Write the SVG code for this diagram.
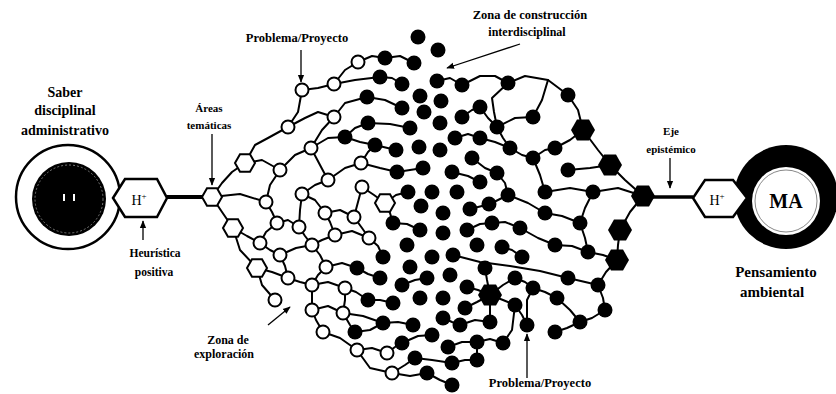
<svg xmlns="http://www.w3.org/2000/svg" xmlns:xlink="http://www.w3.org/1999/xlink" width="836" height="394" viewBox="0 0 836 394">
<style>
.ln{fill:none;stroke:#000;stroke-width:2;stroke-linejoin:round;stroke-linecap:round}
.o{fill:#fff;stroke:#000;stroke-width:2}
.f{fill:#000}
.ar{fill:none;stroke:#000;stroke-width:1.3}
.t{font-family:"Liberation Serif","Times New Roman",serif;font-weight:bold;fill:#000;text-anchor:middle}
.h{font-family:"Liberation Serif","Times New Roman",serif;fill:#000;text-anchor:middle;font-size:14px}
circle.o{r:6.5px}
circle.f{r:7.5px}
</style>
<defs>
<marker id="ah" viewBox="0 0 10 10" refX="9" refY="5" markerWidth="6" markerHeight="6" orient="auto"><path d="M0,1 L10,5 L0,9 z" fill="#000"/></marker>
<polygon id="hx" points="10,0 5,8.7 -5,8.7 -10,0 -5,-8.7 5,-8.7"/>
<polygon id="bh" points="12,0 6,10.4 -6,10.4 -12,0 -6,-10.4 6,-10.4"/>
</defs>
<rect width="836" height="394" fill="#fff"/>

<g id="saber">
<circle cx="68" cy="197" r="52" fill="#fff" stroke="#000" stroke-width="2.5"/>
<circle cx="69" cy="199" r="37" fill="#000"/>
<circle cx="69" cy="199" r="34" fill="none" stroke="#777" stroke-width="1" stroke-dasharray="2 2"/>
<rect x="63" y="194" width="2" height="7" fill="#fff"/>
<rect x="73" y="194" width="2" height="7" fill="#fff"/>
<polygon points="113,198 125,179 157,179 167,198 157,217 125,217" fill="#fff" stroke="#000" stroke-width="2.5"/>
<text class="h" x="139" y="205">H<tspan dy="-6" font-size="9">+</tspan></text>
</g>

<g id="ma">
<circle cx="786" cy="197" r="52" fill="#000"/>
<circle cx="786" cy="201" r="34" fill="#fff"/>
<circle cx="786" cy="201" r="31" fill="none" stroke="#888" stroke-width="1"/>
<polygon points="693,198 705,180 733,180 747,198 733,217 705,217" fill="#fff" stroke="#000" stroke-width="2.5"/>
<text class="h" x="717" y="205">H<tspan dy="-6" font-size="9">+</tspan></text>
<text class="t" x="786" y="208" font-size="20">MA</text>
</g>

<g id="connectors">
<line x1="167" y1="197" x2="203" y2="197" stroke="#000" stroke-width="4"/>
<line x1="650" y1="197" x2="693" y2="197" stroke="#000" stroke-width="3.5"/>
<path class="ln" d="M212,197 L222,183 L232,172 L245,163"/>
<path class="ln" d="M212,197 L222,212 L233,228"/>
<path class="ln" d="M212,197 L240,194 L266,202"/>
<path class="ln" d="M245,163 L262,160 L280,170"/>
<path class="ln" d="M245,163 L255,145 L268,138 L288,127"/>
<path class="ln" d="M288,127 L298,112 L302,90"/>
<path class="ln" d="M302,90 L318,88 L334,84"/>
<path class="ln" d="M334,84 L345,70 L358,62"/>
<path class="ln" d="M358,62 L372,56 L385,58"/>
<path class="ln" d="M385,58 L400,56 L414,63"/>
<path class="ln" d="M334,84 L355,80 L380,77"/>
<path class="ln" d="M380,77 L392,78 L402,84"/>
<path class="ln" d="M288,127 L305,118 L318,112 L334,117"/>
<path class="ln" d="M334,117 L345,103 L367,97"/>
<path class="ln" d="M367,97 L385,100 L402,108"/>
<path class="ln" d="M334,117 L322,130 L311,148"/>
<path class="ln" d="M311,148 L295,155 L280,170"/>
<path class="ln" d="M311,148 L328,138 L345,137"/>
<path class="ln" d="M345,137 L355,128 L368,123"/>
<path class="ln" d="M368,123 L390,124 L410,128"/>
<path class="ln" d="M345,137 L360,142 L375,145 L396,150"/>
<path class="ln" d="M311,148 L320,165 L328,180"/>
<path class="ln" d="M328,180 L345,168 L361,163"/>
<path class="ln" d="M361,163 L368,152 L375,145"/>
<path class="ln" d="M361,163 L380,168 L397,172 L423,168"/>
<path class="ln" d="M280,170 L270,185 L266,202"/>
<path class="ln" d="M266,202 L272,212 L277,223"/>
<path class="ln" d="M328,180 L315,185 L302,194"/>
<path class="ln" d="M302,194 L300,210 L299,227"/>
<path class="ln" d="M302,194 L315,200 L325,213"/>
<path class="ln" d="M325,213 L340,210 L354,217"/>
<path class="ln" d="M354,217 L358,202 L362,187"/>
<path class="ln" d="M362,187 L374,195 L385,203"/>
<path class="ln" d="M385,203 L390,213 L393,223"/>
<path class="ln" d="M385,203 L396,195 L408,192"/>
<path class="ln" d="M277,223 L288,220 L299,227"/>
<path class="ln" d="M233,228 L247,236 L260,243"/>
<path class="ln" d="M277,223 L266,232 L260,243"/>
<path class="ln" d="M299,227 L305,236 L312,245"/>
<path class="ln" d="M325,213 L330,222 L335,235"/>
<path class="ln" d="M335,235 L352,231 L369,238"/>
<path class="ln" d="M369,238 L378,246 L383,257"/>
<path class="ln" d="M335,235 L322,240 L312,245"/>
<path class="ln" d="M260,243 L270,250 L280,255"/>
<path class="ln" d="M280,255 L296,248 L312,245"/>
<path class="ln" d="M233,228 L240,250 L257,268"/>
<path class="ln" d="M257,268 L272,272 L288,278"/>
<path class="ln" d="M280,255 L285,266 L288,278"/>
<path class="ln" d="M312,245 L320,255 L326,267"/>
<path class="ln" d="M326,267 L342,263 L357,268"/>
<path class="ln" d="M357,268 L368,274 L380,278"/>
<path class="ln" d="M326,267 L318,275 L312,285"/>
<path class="ln" d="M288,278 L300,282 L312,285"/>
<path class="ln" d="M312,285 L328,282 L345,288"/>
<path class="ln" d="M345,288 L356,292 L368,300"/>
<path class="ln" d="M368,300 L380,300 L393,303"/>
<path class="ln" d="M257,268 L262,285 L275,300"/>
<path class="ln" d="M312,285 L312,297 L312,310"/>
<path class="ln" d="M312,310 L328,306 L343,313"/>
<path class="ln" d="M343,313 L363,316 L383,323"/>
<path class="ln" d="M383,323 L398,322 L413,325"/>
<path class="ln" d="M312,310 L316,320 L323,332"/>
<path class="ln" d="M323,332 L340,338 L357,350"/>
<path class="ln" d="M357,350 L372,348 L387,353"/>
<path class="ln" d="M387,353 L395,347 L402,343"/>
<path class="ln" d="M357,350 L370,368 L392,373"/>
<path class="ln" d="M392,373 L405,365 L415,358"/>
<path class="ln" d="M415,358 L432,360 L452,363"/>
<path class="ln" d="M392,373 L410,376 L427,373"/>
<path class="ln" d="M345,288 L345,300 L343,313"/>
<path class="ln" d="M354,217 L362,228 L369,238"/>
<path class="ln" d="M343,313 L350,325 L355,332"/>
<path class="ln" d="M355,332 L370,330 L383,323"/>
<path class="ln" d="M402,343 L418,336 L432,335"/>
<path class="ln" d="M393,223 L407,224 L420,230"/>
<path class="ln" d="M402,285 L415,280 L427,278"/>
<path class="ln" d="M437,81 L450,78 L462,85"/>
<path class="ln" d="M462,85 L480,76 L495,76 L508,83"/>
<path class="ln" d="M508,83 L525,76 L548,80 L568,95"/>
<path class="ln" d="M568,95 L578,110 L583,130"/>
<path class="ln" d="M583,130 L598,150 L610,165"/>
<path class="ln" d="M610,165 L625,180 L643,196"/>
<path class="ln" d="M508,83 L492,98 L494,112 L497,127"/>
<path class="ln" d="M480,107 L488,118 L497,127"/>
<path class="ln" d="M462,117 L472,110 L480,107"/>
<path class="ln" d="M497,127 L515,118 L533,117"/>
<path class="ln" d="M533,117 L542,100 L548,80"/>
<path class="ln" d="M497,127 L503,138 L510,148"/>
<path class="ln" d="M510,148 L522,155 L533,158"/>
<path class="ln" d="M533,158 L545,150 L555,148"/>
<path class="ln" d="M555,148 L570,140 L583,130"/>
<path class="ln" d="M455,138 L468,134 L480,138"/>
<path class="ln" d="M480,138 L495,142 L510,148"/>
<path class="ln" d="M472,158 L485,168 L497,173"/>
<path class="ln" d="M497,173 L505,183 L508,195"/>
<path class="ln" d="M533,158 L540,175 L545,192"/>
<path class="ln" d="M545,192 L570,188 L593,192"/>
<path class="ln" d="M593,192 L618,188 L643,196"/>
<path class="ln" d="M568,170 L590,168 L610,165"/>
<path class="ln" d="M452,172 L468,176 L480,182"/>
<path class="ln" d="M470,209 L490,204 L508,195"/>
<path class="ln" d="M508,195 L528,203 L545,213"/>
<path class="ln" d="M545,213 L562,216 L580,223"/>
<path class="ln" d="M593,192 L585,208 L580,223"/>
<path class="ln" d="M580,223 L585,238 L588,252"/>
<path class="ln" d="M643,196 L630,212 L620,230"/>
<path class="ln" d="M620,230 L618,245 L617,260"/>
<path class="ln" d="M617,260 L606,272 L598,285"/>
<path class="ln" d="M598,285 L603,298 L605,310"/>
<path class="ln" d="M605,310 L592,318 L580,322"/>
<path class="ln" d="M580,322 L567,328 L555,332"/>
<path class="ln" d="M588,252 L603,255 L617,260"/>
<path class="ln" d="M467,230 L480,224 L492,223"/>
<path class="ln" d="M492,223 L505,222 L520,228"/>
<path class="ln" d="M520,228 L538,238 L555,245"/>
<path class="ln" d="M555,245 L572,246 L588,252"/>
<path class="ln" d="M453,255 L480,262 L510,266 L540,271 L568,278 L598,285"/>
<path class="ln" d="M490,295 L487,280 L485,268"/>
<path class="ln" d="M490,295 L503,285 L515,278"/>
<path class="ln" d="M490,295 L503,300 L515,305"/>
<path class="ln" d="M490,295 L490,308 L490,322"/>
<path class="ln" d="M490,295 L477,302 L465,308"/>
<path class="ln" d="M467,287 L478,290 L490,295"/>
<path class="ln" d="M515,305 L522,315 L527,325"/>
<path class="ln" d="M515,278 L525,282 L533,288"/>
<path class="ln" d="M533,288 L545,292 L557,298"/>
<path class="ln" d="M557,298 L570,310 L580,322"/>
<path class="ln" d="M502,247 L512,250 L522,257"/>
<path class="ln" d="M477,342 L490,339 L503,343"/>
<path class="ln" d="M477,342 L477,351 L477,360"/>
<path class="ln" d="M452,363 L465,360 L477,360"/>
<path class="ln" d="M448,347 L462,342 L477,342"/>
<path class="ln" d="M460,325 L475,320 L490,322"/>
<path class="ln" d="M443,318 L452,322 L460,325"/>
<path class="ln" d="M503,343 L512,330 L515,305"/>
<path class="ln" d="M452,385 L440,380 L427,373"/>
<path class="ln" d="M527,325 L527,300 L533,288"/>
</g>

<g id="exploracion">
<use href="#hx" x="212" y="197" class="o"/>
<use href="#hx" x="245" y="163" class="o"/>
<use href="#hx" x="233" y="228" class="o"/>
<use href="#hx" x="257" y="268" class="o"/>
<use href="#hx" x="385" y="203" class="o"/>
<circle class="o" cx="302" cy="90" r="6"/>
<circle class="o" cx="334" cy="84" r="6"/>
<circle class="o" cx="358" cy="62" r="6"/>
<circle class="o" cx="334" cy="117" r="6"/>
<circle class="o" cx="288" cy="127" r="6"/>
<circle class="o" cx="311" cy="148" r="6"/>
<circle class="o" cx="280" cy="170" r="6"/>
<circle class="o" cx="302" cy="194" r="6"/>
<circle class="o" cx="328" cy="180" r="6"/>
<circle class="o" cx="361" cy="163" r="6"/>
<circle class="o" cx="266" cy="202" r="6"/>
<circle class="o" cx="277" cy="223" r="6"/>
<circle class="o" cx="260" cy="243" r="6"/>
<circle class="o" cx="299" cy="227" r="6"/>
<circle class="o" cx="325" cy="213" r="6"/>
<circle class="o" cx="354" cy="217" r="6"/>
<circle class="o" cx="335" cy="235" r="6"/>
<circle class="o" cx="312" cy="245" r="6"/>
<circle class="o" cx="369" cy="238" r="6"/>
<circle class="o" cx="280" cy="255" r="6"/>
<circle class="o" cx="288" cy="278" r="6"/>
<circle class="o" cx="326" cy="267" r="6"/>
<circle class="o" cx="312" cy="285" r="6"/>
<circle class="o" cx="345" cy="288" r="6"/>
<circle class="o" cx="275" cy="300" r="6"/>
<circle class="o" cx="312" cy="310" r="6"/>
<circle class="o" cx="343" cy="313" r="6"/>
<circle class="o" cx="323" cy="332" r="6"/>
<circle class="o" cx="357" cy="350" r="6"/>
<circle class="o" cx="387" cy="353" r="6"/>
<circle class="o" cx="392" cy="373" r="6"/>
<circle class="o" cx="362" cy="187" r="6"/>
</g>

<g id="construccion">
<circle class="f" cx="418" cy="37" r="7"/><circle class="f" cx="438" cy="50" r="7"/><circle class="f" cx="385" cy="58" r="7"/><circle class="f" cx="414" cy="63" r="7"/><circle class="f" cx="380" cy="77" r="7"/><circle class="f" cx="402" cy="84" r="7"/><circle class="f" cx="437" cy="81" r="7"/><circle class="f" cx="462" cy="85" r="7"/><circle class="f" cx="508" cy="83" r="7"/><circle class="f" cx="568" cy="95" r="7"/>
<circle class="f" cx="367" cy="97" r="7"/><circle class="f" cx="420" cy="96" r="7"/><circle class="f" cx="441" cy="101" r="7"/><circle class="f" cx="402" cy="108" r="7"/><circle class="f" cx="424" cy="112" r="7"/><circle class="f" cx="480" cy="107" r="7"/><circle class="f" cx="462" cy="117" r="7"/><circle class="f" cx="533" cy="117" r="7"/>
<circle class="f" cx="368" cy="123" r="7"/><circle class="f" cx="440" cy="123" r="7"/><circle class="f" cx="410" cy="128" r="7"/><circle class="f" cx="497" cy="127" r="7"/>
<circle class="f" cx="345" cy="137" r="7"/><circle class="f" cx="375" cy="145" r="7"/><circle class="f" cx="396" cy="150" r="7"/><circle class="f" cx="419" cy="147" r="7"/><circle class="f" cx="440" cy="150" r="7"/><circle class="f" cx="455" cy="138" r="7"/><circle class="f" cx="480" cy="138" r="7"/><circle class="f" cx="510" cy="148" r="7"/><circle class="f" cx="555" cy="148" r="7"/>
<circle class="f" cx="472" cy="158" r="7"/><circle class="f" cx="533" cy="158" r="7"/>
<circle class="f" cx="397" cy="172" r="7"/><circle class="f" cx="423" cy="168" r="7"/><circle class="f" cx="452" cy="172" r="7"/><circle class="f" cx="497" cy="173" r="7"/><circle class="f" cx="480" cy="182" r="7"/><circle class="f" cx="568" cy="170" r="7"/>
<circle class="f" cx="408" cy="192" r="7"/><circle class="f" cx="432" cy="192" r="7"/><circle class="f" cx="457" cy="192" r="7"/><circle class="f" cx="508" cy="195" r="7"/><circle class="f" cx="545" cy="192" r="7"/><circle class="f" cx="593" cy="192" r="7"/>
<circle class="f" cx="421" cy="206" r="7"/><circle class="f" cx="443" cy="213" r="7"/><circle class="f" cx="470" cy="209" r="7"/><circle class="f" cx="489" cy="204" r="7"/><circle class="f" cx="545" cy="213" r="7"/>
<circle class="f" cx="393" cy="223" r="7"/><circle class="f" cx="420" cy="230" r="7"/><circle class="f" cx="443" cy="233" r="7"/><circle class="f" cx="467" cy="230" r="7"/><circle class="f" cx="492" cy="223" r="7"/><circle class="f" cx="520" cy="228" r="7"/><circle class="f" cx="580" cy="223" r="7"/>
<circle class="f" cx="383" cy="257" r="7"/><circle class="f" cx="407" cy="245" r="7"/><circle class="f" cx="432" cy="257" r="7"/><circle class="f" cx="453" cy="255" r="7"/><circle class="f" cx="477" cy="245" r="7"/><circle class="f" cx="502" cy="247" r="7"/><circle class="f" cx="522" cy="257" r="7"/><circle class="f" cx="555" cy="245" r="7"/><circle class="f" cx="588" cy="252" r="7"/>
<circle class="f" cx="357" cy="268" r="7"/><circle class="f" cx="380" cy="278" r="7"/><circle class="f" cx="410" cy="267" r="7"/><circle class="f" cx="427" cy="278" r="7"/><circle class="f" cx="450" cy="275" r="7"/><circle class="f" cx="485" cy="268" r="7"/><circle class="f" cx="515" cy="278" r="7"/><circle class="f" cx="533" cy="288" r="7"/><circle class="f" cx="568" cy="278" r="7"/><circle class="f" cx="598" cy="285" r="7"/>
<circle class="f" cx="402" cy="285" r="7"/><circle class="f" cx="467" cy="287" r="7"/>
<circle class="f" cx="368" cy="300" r="7"/><circle class="f" cx="393" cy="303" r="7"/><circle class="f" cx="420" cy="298" r="7"/><circle class="f" cx="443" cy="298" r="7"/><circle class="f" cx="465" cy="308" r="7"/><circle class="f" cx="515" cy="305" r="7"/><circle class="f" cx="557" cy="298" r="7"/><circle class="f" cx="605" cy="310" r="7"/>
<circle class="f" cx="383" cy="323" r="7"/><circle class="f" cx="413" cy="325" r="7"/><circle class="f" cx="443" cy="318" r="7"/><circle class="f" cx="460" cy="325" r="7"/><circle class="f" cx="490" cy="322" r="7"/><circle class="f" cx="527" cy="325" r="7"/><circle class="f" cx="555" cy="332" r="7"/><circle class="f" cx="580" cy="322" r="7"/>
<circle class="f" cx="355" cy="332" r="7"/><circle class="f" cx="432" cy="335" r="7"/><circle class="f" cx="402" cy="343" r="7"/><circle class="f" cx="448" cy="347" r="7"/><circle class="f" cx="477" cy="342" r="7"/><circle class="f" cx="503" cy="343" r="7"/>
<circle class="f" cx="415" cy="358" r="7"/><circle class="f" cx="452" cy="363" r="7"/><circle class="f" cx="477" cy="360" r="7"/>
<circle class="f" cx="427" cy="373" r="7"/><circle class="f" cx="452" cy="385" r="7"/>
<use href="#bh" x="583" y="130" class="f"/>
<use href="#bh" x="610" y="165" class="f"/>
<use href="#bh" x="643" y="196" class="f"/>
<use href="#bh" x="620" y="230" class="f"/>
<use href="#bh" x="617" y="260" class="f"/>
<use href="#bh" x="490" y="295" class="f"/>
</g>

<g id="arrows">
<line class="ar" x1="301" y1="50" x2="301" y2="82" marker-end="url(#ah)"/>
<line class="ar" x1="212" y1="134" x2="212" y2="185" marker-end="url(#ah)"/>
<line class="ar" x1="143" y1="240" x2="143" y2="221" marker-end="url(#ah)"/>
<line class="ar" x1="520" y1="44" x2="447" y2="68" marker-end="url(#ah)"/>
<line class="ar" x1="670" y1="158" x2="670" y2="188" marker-end="url(#ah)"/>
<line class="ar" x1="268" y1="325" x2="290" y2="307" marker-end="url(#ah)"/>
<line class="ar" x1="527" y1="378" x2="527" y2="334" marker-end="url(#ah)"/>
</g>

<g id="labels">
<text class="t" x="65" y="97" font-size="14">Saber</text>
<text class="t" x="65" y="115" font-size="14">disciplinal</text>
<text class="t" x="65" y="135" font-size="14">administrativo</text>
<text class="t" x="209" y="112" font-size="11">Áreas</text>
<text class="t" x="209" y="129" font-size="11">temáticas</text>
<text class="t" x="155" y="257" font-size="11.5">Heurística</text>
<text class="t" x="154" y="276" font-size="11.5">positiva</text>
<text class="t" x="297" y="42" font-size="12.5">Problema/Proyecto</text>
<text class="t" x="530" y="19" font-size="12.5">Zona de construcción</text>
<text class="t" x="527" y="36" font-size="12">interdisciplinal</text>
<text class="t" x="671" y="135" font-size="11">Eje</text>
<text class="t" x="671" y="153" font-size="11">epistémico</text>
<text class="t" x="776" y="277" font-size="15">Pensamiento</text>
<text class="t" x="772" y="297" font-size="15">ambiental</text>
<text class="t" x="228" y="344" font-size="12">Zona de</text>
<text class="t" x="224" y="358" font-size="12">exploración</text>
<text class="t" x="540" y="387" font-size="12.5">Problema/Proyecto</text>
</g>
</svg>
